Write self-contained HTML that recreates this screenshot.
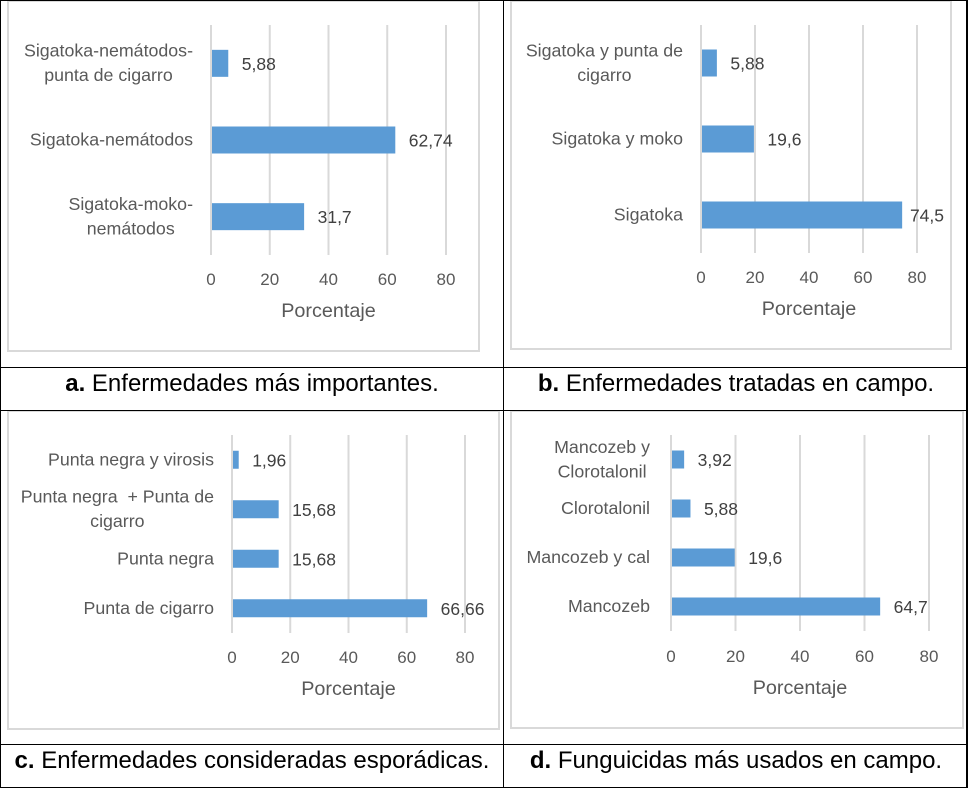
<!DOCTYPE html>
<html lang="es">
<head>
<meta charset="utf-8">
<title>Enfermedades y funguicidas</title>
<style>
html,body{margin:0;padding:0;background:#fff;}
body{width:978px;height:803px;overflow:hidden;}
svg{display:block;font-family:"Liberation Sans",sans-serif;}
.cat{font-size:17.8px;fill:#595959;}
.val{font-size:17.5px;fill:#404040;}
.tick{font-size:17px;fill:#595959;}
.axt{font-size:19.8px;fill:#595959;}
.cap{font-size:24px;fill:#000;}
</style>
</head>
<body>
<svg id="root" xmlns="http://www.w3.org/2000/svg" width="978" height="803" viewBox="0 0 978 803">
  <rect x="0" y="0" width="978" height="803" fill="#fff"/>
  <g id="frames" fill="none" stroke="#d9d9d9" stroke-width="2">
    <rect x="8" y="1" width="471" height="350"/>
    <rect x="511" y="1" width="440" height="348"/>
    <rect x="8" y="411" width="491" height="318"/>
    <rect x="511" y="411" width="452" height="317"/>
  </g>
  <g id="charts"></g>
  <g fill="#000">
    <rect x="0" y="0" width="968" height="1"/>
    <rect x="0" y="0" width="1" height="788"/>
    <rect x="503" y="0" width="1" height="788"/>
    <rect x="966" y="0" width="2" height="788"/>
    <rect x="0" y="367" width="968" height="1"/>
    <rect x="0" y="410" width="968" height="1"/>
    <rect x="0" y="744" width="968" height="1"/>
    <rect x="0" y="787" width="968" height="1"/>
  </g>
  <text class="cap" x="252" y="391" text-anchor="middle"><tspan font-weight="bold">a.</tspan> Enfermedades más importantes.</text>
  <text class="cap" x="736" y="391" text-anchor="middle"><tspan font-weight="bold">b.</tspan> Enfermedades tratadas en campo.</text>
  <text class="cap" x="252" y="768" text-anchor="middle"><tspan font-weight="bold">c.</tspan> Enfermedades consideradas esporádicas.</text>
  <text class="cap" x="736" y="768" text-anchor="middle"><tspan font-weight="bold">d.</tspan> Funguicidas más usados en campo.</text>
</svg>
<script>
// Chart data (top row of each category list is the top bar in the picture)
const ticks = [0, 20, 40, 60, 80];
const axisTitle = "Porcentaje";

const categoriesA = [["Sigatoka-nemátodos-", "punta de cigarro"], ["Sigatoka-nemátodos"], ["Sigatoka-moko-", "nemátodos"]];
const valuesA = [5.88, 62.74, 31.7];
const valueLabelsA = ["5,88", "62,74", "31,7"];

const categoriesB = [["Sigatoka y punta de", "cigarro"], ["Sigatoka y moko"], ["Sigatoka"]];
const valuesB = [5.88, 19.6, 74.5];
const valueLabelsB = ["5,88", "19,6", "74,5"];

const categoriesC = [["Punta negra y virosis"], ["Punta negra  + Punta de", "cigarro"], ["Punta negra"], ["Punta de cigarro"]];
const valuesC = [1.96, 15.68, 15.68, 66.66];
const valueLabelsC = ["1,96", "15,68", "15,68", "66,66"];

const categoriesD = [["Mancozeb y", "Clorotalonil"], ["Clorotalonil"], ["Mancozeb y cal"], ["Mancozeb"]];
const valuesD = [3.92, 5.88, 19.6, 64.7];
const valueLabelsD = ["3,92", "5,88", "19,6", "64,7"];

const NS = "http://www.w3.org/2000/svg";
const chartsRoot = document.getElementById("charts");

function make(tag, parent, props, text) {
  const el = document.createElementNS(NS, tag);
  for (const k in props) el.setAttribute(k, props[k]);
  if (text !== undefined) {
    el.textContent = text;
    el.setAttribute("xml:space", "preserve");
    el.style.whiteSpace = "pre";
  }
  parent.appendChild(el);
  return el;
}

function drawChart(opts) {
  const { id, categories, values, labels, x0, x80, top, bottom, barH, barShift, catRight, tickY, titleY, valueRight } = opts;
  const xScale = v => x0 + (v / 80) * (x80 - x0);
  const band = (bottom - top) / categories.length;
  const yScale = i => top + band * (i + 0.5);

  const g = make("g", chartsRoot, {});
  
  

  ticks.forEach(t => {
    const line = make("line", g, { x1: xScale(t), x2: xScale(t), y1: top, y2: bottom, stroke: "#d9d9d9", "stroke-width": 2 });
    
    
    const label = make("text", g, { class: "tick", x: xScale(t), y: tickY, "text-anchor": "middle" }, String(t));
    
    
  });

  values.forEach((v, i) => {
    const cy = yScale(i);
    const barEnd = xScale(v) + barShift;
    const bar = make("rect", g, { x: xScale(0) + 1, y: cy - barH / 2, width: Math.max(0, barEnd - xScale(0) - 1), height: barH, fill: "#5b9bd5" });
    
    

    const val = make("text", g, { class: "val", x: barEnd + 13.5, y: cy + 6.5 }, labels[i]);
    
    
    const vw = val.getComputedTextLength();
    if (barEnd + 13.5 + vw > valueRight) val.setAttribute("x", valueRight - vw);

    const lines = categories[i];
    const lh = 24.5;
    const widths = [];
    const nodes = lines.map((s, j) => {
      const n = make("text", g, { class: "cat", x: 0, y: cy + 5.5 + (j - (lines.length - 1) / 2) * lh, "text-anchor": "middle" }, s);
      
      
      widths.push(n.getComputedTextLength());
      return n;
    });
    const w = Math.max.apply(null, widths);
    nodes.forEach(n => n.setAttribute("x", catRight - w / 2));
  });

  const title = make("text", g, { class: "axt", x: (x0 + x80) / 2, y: titleY, "text-anchor": "middle" }, axisTitle);
  
  
}

drawChart({ id: "a", categories: categoriesA, values: valuesA, labels: valueLabelsA, x0: 211, x80: 446, top: 25, bottom: 255, barH: 27, barShift: 0, catRight: 193, tickY: 285, titleY: 317, valueRight: 470 });
drawChart({ id: "b", categories: categoriesB, values: valuesB, labels: valueLabelsB, x0: 701, x80: 917, top: 25, bottom: 253, barH: 27, barShift: 0, catRight: 683, tickY: 283, titleY: 315, valueRight: 944 });
drawChart({ id: "c", categories: categoriesC, values: valuesC, labels: valueLabelsC, x0: 232, x80: 465, top: 435, bottom: 633, barH: 18, barShift: 1, catRight: 214, tickY: 663, titleY: 695, valueRight: 490 });
drawChart({ id: "d", categories: categoriesD, values: valuesD, labels: valueLabelsD, x0: 671, x80: 929, top: 435, bottom: 631, barH: 18, barShift: 0.5, catRight: 650, tickY: 662, titleY: 694, valueRight: 950 });
</script>
</body>
</html>
